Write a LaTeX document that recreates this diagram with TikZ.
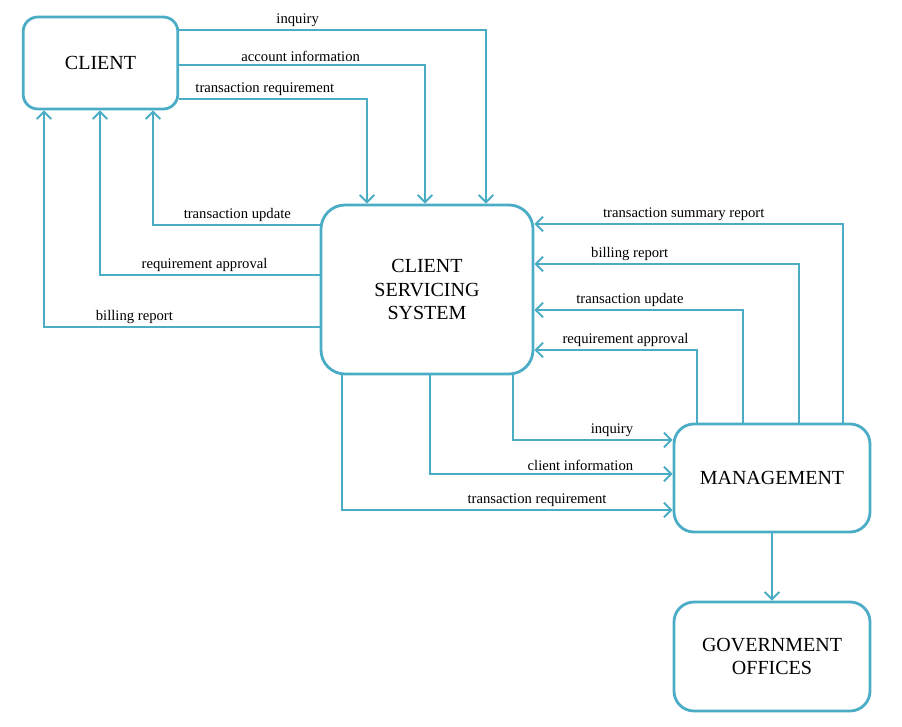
\documentclass[tikz,border=0pt]{standalone}
\usepackage{fontspec}
\setmainfont{Liberation Serif}
\usetikzlibrary{arrows.meta}
\definecolor{flowblue}{RGB}{75,172,198}

\begin{document}
\begin{tikzpicture}[x=0.75pt,y=-0.75pt,
  entity/.style={draw=flowblue,line width=2.1pt,align=center,inner sep=0pt,
    font=\fontsize{15}{17.5}\selectfont},
  flow/.style={draw=flowblue,line width=1.4pt,-{Straight Barb[length=5.5pt,width=11pt]}},
  lbl/.style={font=\fontsize{11}{13}\selectfont,above,inner sep=2pt}]
\useasboundingbox (0,0) rectangle (902,727);
\node[entity,rounded corners=11pt,minimum width=116pt,minimum height=69pt] (client) at (100.5,63){CLIENT};
\node[entity,rounded corners=18pt,minimum width=159pt,minimum height=126.75pt] (css) at (427,289.5){CLIENT\\SERVICING\\SYSTEM};
\node[entity,rounded corners=15pt,minimum width=147pt,minimum height=81pt] (mgmt) at (772,478){MANAGEMENT};
\node[entity,rounded corners=15pt,minimum width=147pt,minimum height=81.75pt] (gov) at (772,656.5){GOVERNMENT\\OFFICES};
% client to servicing system
\foreach \y/\x/\p/\t in {30/486/0.193/inquiry,65/425/0.247/account information,99/367/0.228/transaction requirement}
	\draw[flow] (client.east |- 0,\y) -| node[lbl,pos=\p]{\t} (css.north -| \x,0);
% servicing system to client
\foreach \y/\x/\p/\t in {225/153/0.247/transaction update,275/100/0.262/requirement approval,327/44/0.336/billing report}
	\draw[flow] (css.west |- 0,\y) -| node[lbl,pos=\p]{\t} (client.south -| \x,0);
% management to servicing system
\foreach \x/\y/\p/\t in {843/224/0.758/transaction summary report,799/264/0.82/billing report,743/310/0.771/transaction update,697/350/0.72/requirement approval}
	\draw[flow] (mgmt.north -| \x,0) |- node[lbl,pos=\p]{\t} (css.east |- 0,\y);
% servicing system to management
\foreach \x/\y/\p/\t in {513/440/0.81/inquiry,430/474/0.81/client information,342/510/0.795/transaction requirement}
	\draw[flow] (css.south -| \x,0) |- node[lbl,pos=\p]{\t} (mgmt.west |- 0,\y);
\draw[flow] (mgmt) -- (gov);
\end{tikzpicture}
\end{document}
